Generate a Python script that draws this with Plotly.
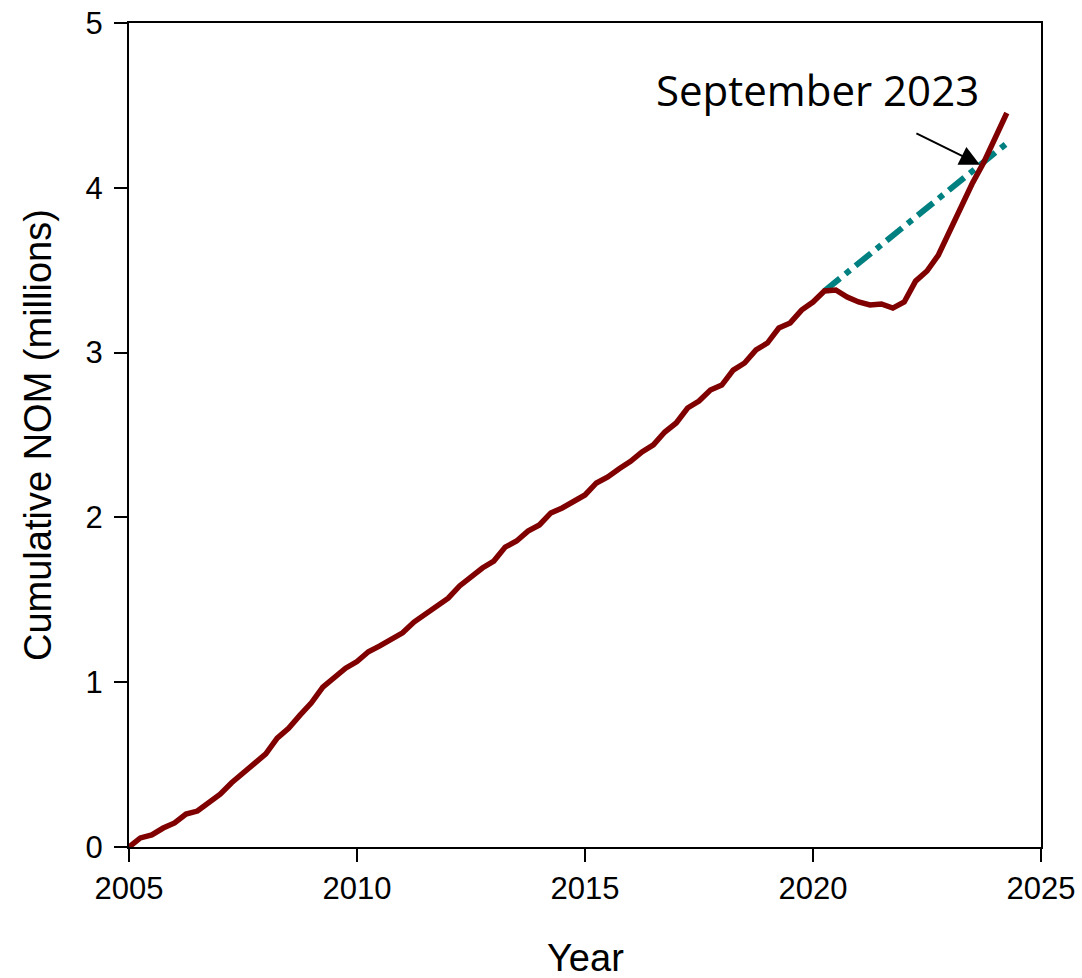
import plotly.graph_objects as go

years = [2005 + 0.25 * i for i in range(78)]
cumulative_nom = [
    0.000, 0.055, 0.073, 0.115, 0.146, 0.200, 0.218, 0.273,
    0.320, 0.390, 0.445, 0.500, 0.565, 0.660, 0.720, 0.800,
    0.875, 0.970, 1.025, 1.085, 1.125, 1.185, 1.220, 1.260,
    1.300, 1.365, 1.410, 1.456, 1.510, 1.584, 1.638, 1.693,
    1.735, 1.820, 1.857, 1.917, 1.954, 2.027, 2.057, 2.100,
    2.136, 2.209, 2.245, 2.295, 2.340, 2.397, 2.440, 2.518,
    2.573, 2.664, 2.706, 2.773, 2.803, 2.894, 2.937, 3.016,
    3.058, 3.149, 3.180, 3.258, 3.307, 3.374, 3.380, 3.337,
    3.307, 3.289, 3.295, 3.270, 3.307, 3.434, 3.495, 3.592,
    3.744, 3.890, 4.030, 4.157, 4.300, 4.454,
]
trend_years = [2020.25, 2024.25]
trend_values = [3.374, 4.27]

x_ticks = [2005, 2010, 2015, 2020, 2025]
y_ticks = [0, 1, 2, 3, 4, 5]

annot_text = "September 2023"
annot_x, annot_y = 2023.66, 4.14

fig = go.Figure()
fig.add_trace(go.Scatter(
    x=trend_years, y=trend_values, mode="lines",
    line=dict(color="#008080", width=6, dash="20px,7px,6px,7px"),
    showlegend=False, hoverinfo="skip",
))
fig.add_trace(go.Scatter(
    x=years, y=cumulative_nom, mode="lines",
    line=dict(color="#800000", width=5.5),
    showlegend=False,
))

axis_common = dict(
    showgrid=False, zeroline=False, showline=True, linecolor="black",
    linewidth=2, mirror=True, ticks="outside", ticklen=13, tickwidth=2,
    tickcolor="black",
    tickfont=dict(family="Liberation Sans, Arial", size=31, color="black"),
)

fig.update_xaxes(range=[2005, 2025], tickvals=x_ticks,
                 ticktext=[str(v) for v in x_ticks], **axis_common)
fig.update_yaxes(range=[0, 5], tickvals=y_ticks,
                 ticktext=[str(v) for v in y_ticks], ticklabelstandoff=5,
                 **axis_common)

fig.add_annotation(
    x=annot_x, y=annot_y, xref="x", yref="y", text="",
    showarrow=True, arrowhead=2, arrowsize=2, arrowwidth=2,
    arrowcolor="black", ax=-65, ay=-32, standoff=0,
)
fig.add_annotation(
    x=0.755, y=1, xref="paper", yref="paper", yshift=-66,
    text=annot_text, showarrow=False, xanchor="center", yanchor="middle",
    font=dict(family="Open Sans", size=42, color="black"),
)
fig.add_annotation(
    x=0.5, y=0, xref="paper", yref="paper", yshift=-111,
    text="Year", showarrow=False, xanchor="center", yanchor="middle",
    font=dict(family="Liberation Sans, Arial", size=38, color="black"),
)
fig.add_annotation(
    x=0, y=0.5, xref="paper", yref="paper", xshift=-91,
    text="Cumulative NOM (millions)", textangle=-90, showarrow=False,
    xanchor="center", yanchor="middle",
    font=dict(family="Liberation Sans, Arial", size=38, color="black"),
)

fig.update_layout(
    width=1082, height=978,
    margin=dict(l=129, r=41, t=23, b=131, autoexpand=False),
    paper_bgcolor="white", plot_bgcolor="white",
)

fig.write_html("out.html")
